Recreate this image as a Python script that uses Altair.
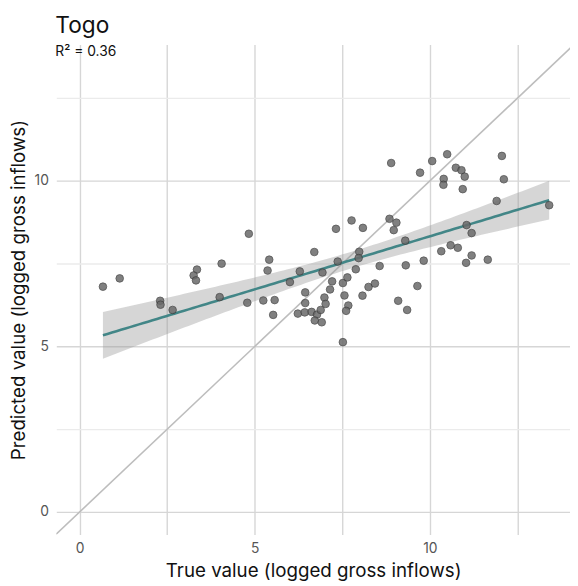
import altair as alt
import pandas as pd
import numpy as np

# True value (logged gross inflows)
true_vals = [0.664, 1.143, 2.297, 2.308, 2.654, 3.349, 3.254, 3.321, 4.053, 3.997,
             4.830, 5.412, 5.365, 4.785, 5.243, 5.567, 5.525, 6.285, 6.003, 6.699,
             7.318, 6.932, 7.368, 7.208, 7.149, 6.440, 6.440, 6.988, 7.022, 6.229,
             6.426, 6.623, 6.777, 6.882, 6.713, 6.912, 7.515, 7.515, 7.644, 7.560,
             7.670, 7.608, 7.884, 8.075, 8.247, 8.430, 8.565, 9.094, 9.350, 9.311,
             8.894, 9.719, 10.065, 10.493, 10.740, 10.901, 10.994, 10.394, 10.386, 10.937,
             7.763, 8.087, 8.846, 9.043, 8.967, 9.296, 7.982, 7.965, 10.324, 10.591,
             10.797, 9.823, 9.643, 12.055, 12.111, 11.905, 13.406, 11.047, 11.191, 11.191,
             11.033, 11.652]
# Predicted value (logged gross inflows)
pred_vals = [6.804, 7.054, 6.378, 6.259, 6.101, 7.321, 7.143, 6.994, 7.500, 6.488,
             8.402, 7.619, 7.292, 6.318, 6.387, 6.399, 5.952, 7.265, 6.943, 7.851,
             8.551, 7.232, 7.563, 6.964, 6.720, 6.631, 6.310, 6.476, 6.283, 5.991,
             6.027, 6.042, 5.961, 6.101, 5.783, 5.729, 5.128, 6.914, 7.083, 6.539,
             6.235, 6.074, 7.330, 6.533, 6.795, 6.899, 7.429, 6.378, 6.101, 7.449,
             10.539, 10.247, 10.598, 10.804, 10.396, 10.321, 10.128, 10.060, 9.881, 9.750,
             8.804, 8.580, 8.854, 8.738, 8.512, 8.193, 7.860, 7.667, 7.875, 8.054,
             7.979, 7.589, 6.824, 10.753, 10.048, 9.393, 9.265, 8.664, 8.423, 7.747,
             7.524, 7.619]

title_text = "Togo"
subtitle_text = "R\u00b2 = 0.36"
x_title = "True value (logged gross inflows)"
y_title = "Predicted value (logged gross inflows)"
tick_values = [0, 2.5, 5, 7.5, 10, 12.5]
x_domain = [-0.667, 14.0]
y_domain = [-0.685, 14.116]

pts = pd.DataFrame({"true": true_vals, "pred": pred_vals})

# linear fit with 95% confidence band (like geom_smooth(method = "lm"))
x = np.array(true_vals)
y = np.array(pred_vals)
n = len(x)
b1, b0 = np.polyfit(x, y, 1)
xs = np.linspace(x.min(), x.max(), 100)
yhat = b0 + b1 * xs
resid = y - (b0 + b1 * x)
s = np.sqrt(np.sum(resid ** 2) / (n - 2))
se = s * np.sqrt(1 / n + (xs - x.mean()) ** 2 / np.sum((x - x.mean()) ** 2))
t = 1.990
fit = pd.DataFrame({"true": xs, "fit": yhat, "lo": yhat - t * se, "hi": yhat + t * se})

diag = pd.DataFrame({"true": [-2.0, 16.0], "pred": [-2.0, 16.0]})

label_expr = "datum.value % 5 === 0 ? datum.label : ''"

xs_scale = alt.Scale(domain=x_domain, nice=False, zero=False)
ys_scale = alt.Scale(domain=y_domain, nice=False, zero=False)

x_axis = alt.Axis(values=tick_values, labelExpr=label_expr, domain=False, ticks=False,
                  gridColor="#d6d6d6", gridWidth=1.4, labelColor="#555555",
                  labelFontSize=14, labelPadding=7, title=x_title, titleFontSize=19,
                  titleFontWeight="normal", titleColor="#111111", titlePadding=6)
y_axis = alt.Axis(values=tick_values, labelExpr=label_expr, domain=False, ticks=False,
                  gridColor={"condition": {"test": "datum.value % 5 === 0", "value": "#d6d6d6"},
                             "value": "#ebebeb"},
                  gridWidth=1.4, labelColor="#555555",
                  labelFontSize=14, labelPadding=8, title=y_title, titleFontSize=19,
                  titleFontWeight="normal", titleColor="#111111", titlePadding=6)

diag_layer = alt.Chart(diag).mark_line(color="#bdbdbd", strokeWidth=1.6, clip=True).encode(
    x=alt.X("true:Q", scale=xs_scale, axis=x_axis),
    y=alt.Y("pred:Q", scale=ys_scale, axis=y_axis),
)

band = alt.Chart(fit).mark_area(color="#999999", opacity=0.4).encode(
    x=alt.X("true:Q", scale=xs_scale, axis=x_axis),
    y=alt.Y("lo:Q", scale=ys_scale, axis=y_axis),
    y2="hi:Q",
)

line = alt.Chart(fit).mark_line(color="#428687", strokeWidth=2.6).encode(
    x=alt.X("true:Q", scale=xs_scale, axis=x_axis),
    y=alt.Y("fit:Q", scale=ys_scale, axis=y_axis),
)

points = alt.Chart(pts).mark_circle(size=60, fill="#6a6a6a", stroke="#3a3a3a",
                                     strokeWidth=0.8, opacity=0.85).encode(
    x=alt.X("true:Q", scale=xs_scale, axis=x_axis),
    y=alt.Y("pred:Q", scale=ys_scale, axis=y_axis),
)

chart = alt.layer(diag_layer, band, line, points).properties(
    width=521,
    height=497,
    autosize=alt.AutoSizeParams(type="none"),
    padding={"left": 49, "top": 33, "right": 0, "bottom": 48},
    title=alt.TitleParams(text=title_text, subtitle=subtitle_text, anchor="start",
                          frame="group", fontSize=23, fontWeight="normal", color="#111111",
                          subtitleFontSize=14, subtitleColor="#111111",
                          subtitlePadding=8, offset=-15, dx=-1),
).configure(font="Inter").configure_view(stroke=None)

chart.save("out.html", embed_options={"renderer": "svg", "actions": False})
